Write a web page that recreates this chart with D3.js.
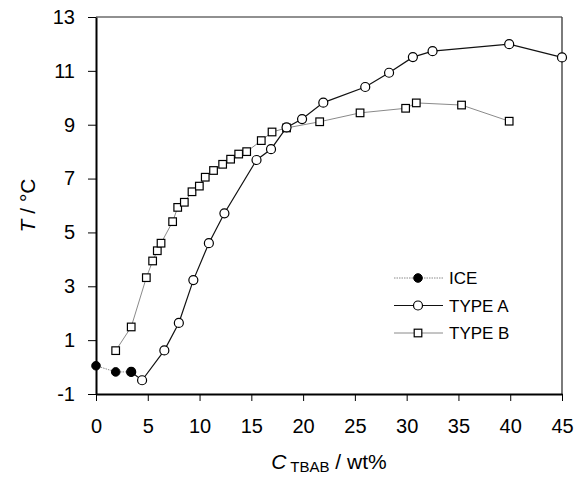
<!DOCTYPE html>
<html>

<head>
    <meta charset="UTF-8" />
    <title>TBAB phase diagram</title>
    <script src="https://d3js.org/d3.v7.min.js"></script>
    <style>
        body {
            margin: 0;
            background: white;
        }

        text {
            font-family: "Liberation Sans", Arial, sans-serif;
            fill: black;
        }

        .axis text {
            font-size: 20px;
        }
    </style>
</head>

<body>
    <svg width="578" height="488"></svg>

    <script>
        // values (C_TBAB in wt%, T in degC)
        var iceX = [0, 1.9, 3.4];
        var iceY = [0.05, -0.18, -0.18];

        var typeAX = [3.4, 4.45, 6.6, 8.0, 9.4, 10.9, 12.4, 15.5, 16.9, 18.4, 19.9, 21.95, 26.0, 28.3, 30.6, 32.5, 39.9, 45];
        var typeAY = [-0.18, -0.49, 0.62, 1.64, 3.23, 4.6, 5.71, 7.69, 8.09, 8.9, 9.21, 9.82, 10.4, 10.93, 11.51, 11.73, 11.99, 11.5];

        var typeBX = [1.9, 3.4, 4.86, 5.47, 5.92, 6.28, 7.4, 7.89, 8.53, 9.27, 9.98, 10.55, 11.35, 12.23, 13.0, 13.78, 14.55, 15.96, 17.0, 18.4, 21.6, 25.5, 29.9, 30.93, 35.3, 39.9];
        var typeBY = [0.61, 1.49, 3.32, 3.94, 4.32, 4.6, 5.4, 5.93, 6.12, 6.51, 6.72, 7.05, 7.3, 7.53, 7.72, 7.91, 8.0, 8.41, 8.73, 8.88, 9.11, 9.44, 9.61, 9.81, 9.73, 9.13];

        var xTicks = [0, 5, 10, 15, 20, 25, 30, 35, 40, 45];
        var yTicks = [-1, 1, 3, 5, 7, 9, 11, 13];
        var legendNames = ["ICE", "TYPE A", "TYPE B"];

        var svg = d3.select("svg");
        // plot box (note: "top" is taken by window.top, so use other names)
        var pLeft = 96, pRight = 562, pTop = 17, pBottom = 394;

        var xScale = d3.scaleLinear().domain([0, 45]).range([pLeft, pRight]);
        var yScale = d3.scaleLinear().domain([-1, 13]).range([pBottom, pTop]);

        function zip(xs, ys) {
            return xs.map(function (x, i) { return { x: x, y: ys[i] }; });
        }

        var series = [
            { name: "ICE", data: zip(iceX, iceY), stroke: "#8a8a8a", width: 1, dash: "1.5,1", marker: "dot" },
            { name: "TYPE B", data: zip(typeBX, typeBY), stroke: "#8a8a8a", width: 1, dash: null, marker: "square" },
            { name: "TYPE A", data: zip(typeAX, typeAY), stroke: "#111", width: 1.2, dash: null, marker: "circle" }
        ];

        // frame: top and right
        svg.append("line")
            .attr("x1", pLeft).attr("x2", pRight).attr("y1", pTop).attr("y2", pTop)
            .attr("stroke", "#222").attr("stroke-width", 1.2);
        svg.append("line")
            .attr("x1", pRight).attr("x2", pRight).attr("y1", pTop).attr("y2", pBottom)
            .attr("stroke", "#444").attr("stroke-width", 1.4);

        // y axis (plain hyphen for -1, like the original)
        var yAxis = svg.append("g").attr("class", "axis")
            .attr("transform", "translate(" + pLeft + ",0)")
            .call(d3.axisLeft(yScale).tickValues(yTicks).tickFormat(d => String(d))
                .tickSize(8).tickSizeOuter(0).tickPadding(13));
        yAxis.select(".domain").attr("stroke-width", 2);

        // x axis
        var xAxis = svg.append("g").attr("class", "axis")
            .attr("transform", "translate(0," + pBottom + ")")
            .call(d3.axisBottom(xScale).tickValues(xTicks).tickSize(7).tickSizeOuter(0).tickPadding(18));
        xAxis.select(".domain").attr("stroke-width", 2);

        // lines
        var line = d3.line().x(d => xScale(d.x)).y(d => yScale(d.y));

        function drawMarker(g, type, cx, cy) {
            if (type === "dot") {
                g.append("circle").attr("cx", cx).attr("cy", cy).attr("r", 4.3)
                    .attr("fill", "black").attr("stroke", "black");
            } else if (type === "circle") {
                g.append("circle").attr("cx", cx).attr("cy", cy).attr("r", 4.5)
                    .attr("fill", "white").attr("stroke", "black").attr("stroke-width", 1.2);
            } else {
                g.append("rect").attr("x", cx - 3.8).attr("y", cy - 3.8)
                    .attr("width", 7.6).attr("height", 7.6)
                    .attr("fill", "white").attr("stroke", "black").attr("stroke-width", 1.2);
            }
        }

        series.forEach(function (s) {
            svg.append("path")
                .attr("d", line(s.data))
                .attr("fill", "none")
                .attr("stroke", s.stroke)
                .attr("stroke-width", s.width)
                .attr("stroke-dasharray", s.dash);
        });

        // markers: type B first, then type A, ice on top
        ["TYPE B", "TYPE A", "ICE"].forEach(function (name) {
            var s = series.find(d => d.name === name);
            var g = svg.append("g");
            s.data.forEach(function (d) {
                drawMarker(g, s.marker, xScale(d.x), yScale(d.y));
            });
        });

        // legend
        var legend = svg.append("g");
        legendNames.forEach(function (name, i) {
            var s = series.find(d => d.name === name);
            var ly = 278 + i * 27.5;
            legend.append("line")
                .attr("x1", 394).attr("x2", 443).attr("y1", ly).attr("y2", ly)
                .attr("stroke", s.stroke).attr("stroke-width", s.width)
                .attr("stroke-dasharray", s.dash);
            drawMarker(legend, s.marker, 418, ly);
            legend.append("text")
                .attr("x", 449).attr("y", ly + 6)
                .style("font-size", "17px")
                .text(name);
        });

        // axis titles
        var yt = svg.append("text")
            .attr("transform", "translate(35," + ((pTop + pBottom) / 2) + ") rotate(-90)")
            .attr("text-anchor", "middle")
            .style("font-size", "21px");
        yt.append("tspan").style("font-style", "italic").text("T");
        yt.append("tspan").text(" / °C");

        var xt = svg.append("text")
            .attr("x", (pLeft + pRight) / 2).attr("y", 469)
            .attr("text-anchor", "middle")
            .style("font-size", "21px");
        xt.append("tspan").style("font-style", "italic").text("C");
        xt.append("tspan").attr("dy", 3).style("font-size", "15px").text(" TBAB");
        xt.append("tspan").attr("dy", -3).text(" / wt%");
    </script>
</body>

</html>
